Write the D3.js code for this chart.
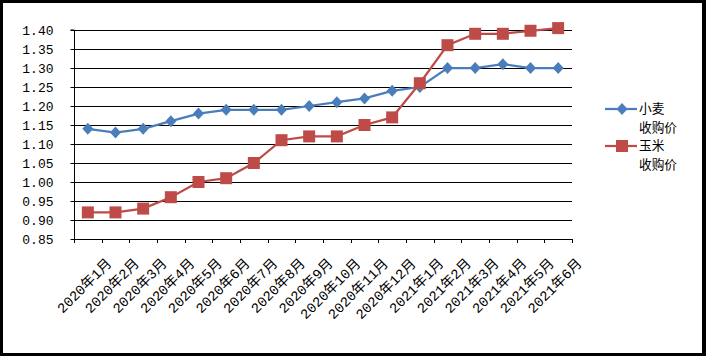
<!DOCTYPE html>
<html><head><meta charset="utf-8">
<script src="https://cdn.jsdelivr.net/npm/d3@7"></script>
<style>body{margin:0;background:#fff}svg{display:block}</style>
</head><body>
<svg id="c" width="706" height="356"></svg>
<script>
const categories = ["2020年1月","2020年2月","2020年3月","2020年4月","2020年5月","2020年6月","2020年7月","2020年8月","2020年9月","2020年10月","2020年11月","2020年12月","2021年1月","2021年2月","2021年3月","2021年4月","2021年5月","2021年6月"];
const wheat = [1.14,1.13,1.14,1.16,1.18,1.19,1.19,1.19,1.20,1.21,1.22,1.24,1.25,1.30,1.30,1.31,1.30,1.30];
const corn = [0.92,0.92,0.93,0.96,1.00,1.01,1.05,1.11,1.12,1.12,1.15,1.17,1.26,1.36,1.39,1.39,1.398,1.405];
const yTicks = [0.85,0.90,0.95,1.00,1.05,1.10,1.15,1.20,1.25,1.30,1.35,1.40];
const seriesNames = [["小麦","收购价"],["玉米","收购价"]];
const colors = ["#4a7ebb","#be4b48"];

const svg = d3.select("#c");
svg.append("rect").attr("x",1.5).attr("y",1.5).attr("width",702).attr("height",353)
  .attr("fill","#fff").attr("stroke","#000").attr("stroke-width",3);
svg.append("rect").attr("x",703).attr("y",0).attr("width",3).attr("height",356).attr("fill","#000");

const L=74,R=572,T=30,B=239;
const x = d3.scaleBand().domain(categories).range([L,R]);
const y = d3.scaleLinear().domain([0.85,1.40]).range([B,T]);
const lf = "'Liberation Mono','Noto Sans CJK SC',monospace";

// gridlines
svg.append("g").selectAll("line").data(yTicks.slice(1)).join("line")
  .attr("x1",L).attr("x2",R).attr("y1",d=>Math.round(y(d))+0.5).attr("y2",d=>Math.round(y(d))+0.5)
  .attr("stroke","#000").attr("stroke-width",1);
// y axis
const ya = svg.append("g").attr("transform",`translate(${L+0.5},0)`)
  .call(d3.axisLeft(y).tickValues(yTicks).tickFormat(d3.format(".2f")).tickSize(4).tickPadding(17));
ya.select(".domain").attr("d",`M-4,${T}H0V${B}`).attr("stroke","#000");
ya.selectAll(".tick line").attr("stroke","#000");
ya.selectAll(".tick").attr("transform",d=>`translate(0,${Math.round(y(d))+0.5})`);
ya.selectAll("text").attr("font-family",lf).attr("font-size",13).attr("fill","#000");
// x axis
svg.append("line").attr("x1",L).attr("x2",R).attr("y1",B+0.5).attr("y2",B+0.5).attr("stroke","#000");
const bounds = categories.map(c=>x(c)).concat([R]);
svg.append("g").selectAll("line").data(bounds).join("line")
  .attr("x1",d=>Math.round(d)+0.5).attr("x2",d=>Math.round(d)+0.5).attr("y1",B).attr("y2",B+4).attr("stroke","#000");
svg.append("g").selectAll("text").data(categories).join("text")
  .attr("transform",d=>`translate(${x(d)+x.bandwidth()/2+21},${B+22}) rotate(-45)`)
  .attr("text-anchor","end").attr("dy","0.35em")
  .attr("font-family",lf).attr("font-size",14).attr("fill","#000").text(d=>d);

const cx = d=>x(d)+x.bandwidth()/2;
const diamond = "M0,-6L5.5,0L0,6L-5.5,0Z";
const square = "M-6,-6H6V6H-6Z";
const series = [wheat, corn];
const markers = [diamond, square];
series.forEach((vals,i)=>{
  const pts = categories.map((c,j)=>[cx(c), y(vals[j])]);
  svg.append("path").attr("d",d3.line()(pts)).attr("fill","none").attr("stroke",colors[i]).attr("stroke-width",2.25);
  svg.append("g").selectAll("path").data(pts).join("path")
    .attr("transform",d=>`translate(${d[0]},${d[1]})`).attr("d",markers[i]).attr("fill",colors[i]);
});

// legend
const ly = [109,146];
seriesNames.forEach((n,i)=>{
  const g = svg.append("g");
  g.append("line").attr("x1",605).attr("x2",637).attr("y1",ly[i]).attr("y2",ly[i]).attr("stroke",colors[i]).attr("stroke-width",2.25);
  g.append("path").attr("transform",`translate(622,${ly[i]})`).attr("d",markers[i]).attr("fill",colors[i]);
  n.forEach((t,k)=>{
    g.append("text").attr("x",639).attr("y",ly[i]+k*18.5).attr("dy","0.35em")
      .attr("font-family","'Noto Sans CJK SC',sans-serif").attr("font-size",12.7).attr("fill","#000").text(t);
  });
});
</script>
</body></html>
